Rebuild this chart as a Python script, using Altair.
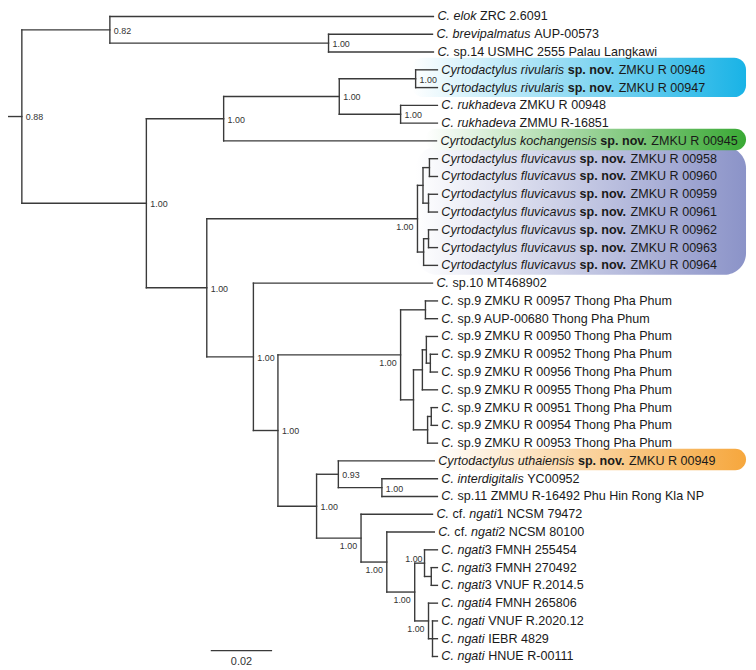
import altair as alt
import pandas as pd

# ---------------- data: internal nodes (depth = substitutions/site from root) ----------------
node_id = ["root", "A", "B", "C", "D", "E", "R", "K", "F", "G",
           "G1", "G1a", "G1b", "G2", "G2a",
           "H", "I", "J", "J1", "J2",
           "J2a", "J2a1", "J2a1p", "J2b", "J2b1",
           "M", "N", "N2", "P", "Q",
           "S", "S1", "S1a", "T", "U"]
node_parent = [None, "root", "A", "root", "C", "D", "E", "E", "C", "F",
               "G", "G1", "G1", "G", "G2",
               "F", "H", "I", "J", "J",
               "J2", "J2a", "J2a1", "J2", "J2b",
               "I", "M", "N", "M", "P",
               "Q", "S", "S1", "S", "T"]
node_depth = [0.0, 0.0287, 0.1000, 0.0406, 0.0658, 0.1035, 0.1284, 0.1235, 0.0603, 0.1290,
              0.1308, 0.1329, 0.1326, 0.1310, 0.1326,
              0.0755, 0.0835, 0.1235, 0.1316, 0.1277,
              0.1306, 0.1319, 0.1332, 0.1323, 0.1335,
              0.0961, 0.1032, 0.1174, 0.1106, 0.1190,
              0.1281, 0.1313, 0.1335, 0.1326, 0.1339]
node_support = ["0.88", "0.82", "1.00", "1.00", "1.00", "1.00", "1.00", "1.00", "1.00", "1.00",
                "", "", "", "", "",
                "1.00", "1.00", "1.00", "", "",
                "", "", "", "", "",
                "1.00", "0.93", "1.00", "1.00", "1.00",
                "1.00", "1.00", "", "1.00", ""]
node_label_pos = ["r", "r", "r", "r", "r", "r", "r", "r", "r", "bl",
                  "", "", "", "", "",
                  "r", "r", "bl", "", "",
                  "", "", "", "", "",
                  "r", "r", "r", "bl", "bl",
                  "bl", "al", "", "bl", ""]

# ---------------- data: leaves (top to bottom) ----------------
# _..._ = italic, *...* = bold, rest = regular
leaf_label = [
    "_C. elok_ ZRC 2.6091",
    "_C. brevipalmatus_ AUP-00573",
    "_C._ sp.14 USMHC 2555 Palau Langkawi",
    "_Cyrtodactylus rivularis_ *sp. nov.* ZMKU R 00946",
    "_Cyrtodactylus rivularis_ *sp. nov.* ZMKU R 00947",
    "_C. rukhadeva_ ZMKU R 00948",
    "_C. rukhadeva_ ZMMU R-16851",
    "_Cyrtodactylus kochangensis_ *sp. nov.* ZMKU R 00945",
    "_Cyrtodactylus fluvicavus_ *sp. nov.* ZMKU R 00958",
    "_Cyrtodactylus fluvicavus_ *sp. nov.* ZMKU R 00960",
    "_Cyrtodactylus fluvicavus_ *sp. nov.* ZMKU R 00959",
    "_Cyrtodactylus fluvicavus_ *sp. nov.* ZMKU R 00961",
    "_Cyrtodactylus fluvicavus_ *sp. nov.* ZMKU R 00962",
    "_Cyrtodactylus fluvicavus_ *sp. nov.* ZMKU R 00963",
    "_Cyrtodactylus fluvicavus_ *sp. nov.* ZMKU R 00964",
    "_C._ sp.10 MT468902",
    "_C._ sp.9 ZMKU R 00957 Thong Pha Phum",
    "_C._ sp.9 AUP-00680 Thong Pha Phum",
    "_C._ sp.9 ZMKU R 00950 Thong Pha Phum",
    "_C._ sp.9 ZMKU R 00952 Thong Pha Phum",
    "_C._ sp.9 ZMKU R 00956 Thong Pha Phum",
    "_C._ sp.9 ZMKU R 00955 Thong Pha Phum",
    "_C._ sp.9 ZMKU R 00951 Thong Pha Phum",
    "_C._ sp.9 ZMKU R 00954 Thong Pha Phum",
    "_C._ sp.9 ZMKU R 00953 Thong Pha Phum",
    "_Cyrtodactylus uthaiensis_ *sp. nov.* ZMKU R 00949",
    "_C. interdigitalis_ YC00952",
    "_C._ sp.11 ZMMU R-16492 Phu Hin Rong Kla NP",
    "_C._ cf. _ngati_1 NCSM 79472",
    "_C._ cf. _ngati_2 NCSM 80100",
    "_C. ngati_3 FMNH 255454",
    "_C. ngati_3 FMNH 270492",
    "_C. ngati_3 VNUF R.2014.5",
    "_C. ngati_4 FMNH 265806",
    "_C. ngati_ VNUF R.2020.12",
    "_C. ngati_ IEBR 4829",
    "_C. ngati_ HNUE R-00111",
]
leaf_parent = ["A", "B", "B", "R", "R", "K", "K", "D",
               "G1a", "G1a", "G1b", "G1b", "G2a", "G2a", "G2",
               "H",
               "J1", "J1", "J2a1", "J2a1p", "J2a1p", "J2a", "J2b1", "J2b1", "J2b",
               "N", "N2", "N2", "P", "Q",
               "S1", "S1a", "S1a", "T", "U", "U", "U"]
leaf_depth = [0.1342, 0.1339, 0.1342, 0.1355, 0.1355, 0.1355, 0.1355, 0.1352,
              0.1355, 0.1355, 0.1355, 0.1355, 0.1355, 0.1355, 0.1355,
              0.1339,
              0.1355, 0.1355, 0.1355, 0.1355, 0.1355, 0.1355, 0.1355, 0.1355, 0.1355,
              0.1345, 0.1355, 0.1355, 0.1339, 0.1345,
              0.1355, 0.1355, 0.1355, 0.1355, 0.1355, 0.1355, 0.1355]

# ---------------- data: highlighted clades ----------------
hl_name = ["fluvicavus", "rivularis", "kochangensis", "uthaiensis"]
hl_first = [8, 3, 7, 25]
hl_last = [14, 4, 7, 25]
hl_start = [0.1284, 0.1271, 0.1316, 0.1340]

# scale bar
scale_len = 0.02
scale_start = 0.0616

# ---------------- styles / layout ----------------
hl_style = {
    "rivularis": ("#19b3e6", 12),
    "kochangensis": ("#3aa935", 12),
    "fluvicavus": ("#8b93c8", 22),
    "uthaiensis": ("#f6a73d", 13),
}
W, H = 748, 662
PX_PER_UNIT = 3100.0
ROOT_PX = 14.0
X_MIN = -ROOT_PX / PX_PER_UNIT
X_MAX = X_MIN + W / PX_PER_UNIT
ROW_TOP, ROW_STEP = 5.0, 17.97
Y_MIN = -ROW_TOP / ROW_STEP
Y_MAX = Y_MIN + H / ROW_STEP
FS = 12.7
GAP = 4.0
FONT = "Liberation Sans"
LINE = "#3a3a3a"

# Arial / Liberation Sans advance widths (1/1000 em)
REG = {' ': 278, '.': 278, '-': 333, 'A': 667, 'B': 667, 'C': 722, 'D': 722, 'E': 667, 'F': 611,
       'G': 778, 'H': 722, 'I': 278, 'J': 500, 'K': 667, 'L': 556, 'M': 833, 'N': 722, 'O': 778,
       'P': 667, 'Q': 778, 'R': 722, 'S': 667, 'T': 611, 'U': 722, 'V': 667, 'W': 944, 'X': 667,
       'Y': 667, 'Z': 611, 'a': 556, 'b': 556, 'c': 500, 'd': 556, 'e': 556, 'f': 278, 'g': 556,
       'h': 556, 'i': 222, 'j': 222, 'k': 500, 'l': 222, 'm': 833, 'n': 556, 'o': 556, 'p': 556,
       'q': 556, 'r': 333, 's': 500, 't': 278, 'u': 556, 'v': 500, 'w': 722, 'x': 500, 'y': 500,
       'z': 500}
for d in "0123456789":
    REG[d] = 556
BOLD = dict(REG)
BOLD.update({'s': 556, 'p': 611, 'n': 611, 'o': 611, 'v': 556})


def text_px(s, style):
    tab = BOLD if style == "bold" else REG
    return sum(tab.get(ch, 556) for ch in s) * FS / 1000.0


def parse(markup):
    segs, cur, style = [], "", "normal"
    for ch in markup:
        if ch in "_*":
            if cur:
                segs.append((cur, style))
            cur = ""
            new = "italic" if ch == "_" else "bold"
            style = "normal" if style == new else new
        else:
            cur += ch
    if cur:
        segs.append((cur, style))
    return segs


# ---------------- tree layout ----------------
depth = dict(zip(node_id, node_depth))
parent = dict(zip(node_id, node_parent))
children = {n: [] for n in node_id}
for n, p in zip(node_id, node_parent):
    if p is not None:
        children[p].append(n)
leaf_ids = [f"L{i}" for i in range(len(leaf_label))]
for i, (lid, p) in enumerate(zip(leaf_ids, leaf_parent)):
    children[p].append(lid)
    depth[lid] = leaf_depth[i]
    parent[lid] = p

ypos, span = {}, {}
for i, lid in enumerate(leaf_ids):
    ypos[lid] = float(i)


def place(n):
    if n in ypos:
        return ypos[n]
    ys = [place(c) for c in children[n]]
    span[n] = (min(ys), max(ys))
    ypos[n] = (min(ys) + max(ys)) / 2.0
    return ypos[n]


place("root")

segs = []
for n in list(node_id) + leaf_ids:
    p = parent[n]
    if p is not None:
        segs.append({"x": depth[p], "x2": depth[n], "y": ypos[n], "y2": ypos[n]})
for n in node_id:
    lo, hi = span[n]
    segs.append({"x": depth[n], "x2": depth[n], "y": lo, "y2": hi})
segs.append({"x": X_MIN, "x2": depth["root"], "y": ypos["root"], "y2": ypos["root"]})
seg_df = pd.DataFrame(segs)

# leaf label pieces
pieces = []
for i, lab in enumerate(leaf_label):
    off = GAP
    for txt, style in parse(lab):
        lead = len(txt) - len(txt.lstrip(" "))
        start = off + text_px(txt[:lead], style)
        pieces.append({"x": leaf_depth[i] + start / PX_PER_UNIT, "y": float(i),
                       "t": txt.strip(), "style": style})
        off += text_px(txt, style)
piece_df = pd.DataFrame(pieces)

sup_df = pd.DataFrame([{"x": depth[n], "y": ypos[n], "t": s, "pos": pos}
                       for n, s, pos in zip(node_id, node_support, node_label_pos) if s])

xs = alt.Scale(domain=[X_MIN, X_MAX], nice=False, zero=False)
ys = alt.Scale(domain=[Y_MIN, Y_MAX], nice=False, zero=False, reverse=True)
X = lambda f: alt.X(f, type="quantitative", scale=xs, axis=None)
Y = lambda f: alt.Y(f, type="quantitative", scale=ys, axis=None)

layers = []
# highlight boxes
hl_df = pd.DataFrame({"name": hl_name,
                      "x": hl_start,
                      "x2": [X_MAX - 2.0 / PX_PER_UNIT] * len(hl_name),
                      "y": [f - 0.68 for f in hl_first],
                      "y2": [l + 0.53 for l in hl_last]})
for name in hl_name:
    col, rad = hl_style[name]
    grad = alt.LinearGradient(gradient="linear", x1=0, x2=1, y1=0, y2=0,
                              stops=[alt.GradientStop(offset=0, color="#ffffff"),
                                     alt.GradientStop(offset=1, color=col)])
    layers.append(alt.Chart(hl_df[hl_df.name == name]).mark_rect(color=grad, cornerRadius=rad)
                  .encode(x=X("x"), x2="x2", y=Y("y"), y2="y2"))

layers.append(alt.Chart(seg_df).mark_rule(color=LINE, strokeWidth=1.4, strokeCap="square")
              .encode(x=X("x"), x2="x2", y=Y("y"), y2="y2"))

for style in ["normal", "italic", "bold"]:
    layers.append(alt.Chart(piece_df[piece_df["style"] == style]).mark_text(
        align="left", baseline="middle", font=FONT, fontSize=FS, color="#1a1a1a",
        fontStyle="italic" if style == "italic" else "normal",
        fontWeight="bold" if style == "bold" else "normal")
        .encode(x=X("x"), y=Y("y"), text="t:N"))

pos_cfg = {"r": dict(align="left", dx=4, dy=1),
           "bl": dict(align="right", dx=-4, dy=8),
           "al": dict(align="right", dx=-2, dy=-4)}
for pos, cfg in pos_cfg.items():
    layers.append(alt.Chart(sup_df[sup_df["pos"] == pos]).mark_text(
        baseline="middle", font=FONT, fontSize=9, color="#333333", **cfg)
        .encode(x=X("x"), y=Y("y"), text="t:N"))

sb_row = 35.67
sb_df = pd.DataFrame({"x": [scale_start], "x2": [scale_start + scale_len], "y": [sb_row],
                      "xm": [scale_start + scale_len / 2], "t": [f"{scale_len:.2f}"]})
layers.append(alt.Chart(sb_df).mark_rule(color=LINE, strokeWidth=1.4)
              .encode(x=X("x"), x2="x2", y=Y("y")))
layers.append(alt.Chart(sb_df).mark_text(baseline="middle", align="center", font=FONT,
                                         fontSize=11, color="#333333", dy=12)
              .encode(x=X("xm"), y=Y("y"), text="t:N"))

chart = alt.layer(*layers).properties(
    width=W, height=H, autosize=alt.AutoSizeParams(type="none"), padding=0
).configure_view(stroke=None)

chart.save("out.html", embed_options={"renderer": "svg", "actions": False})
